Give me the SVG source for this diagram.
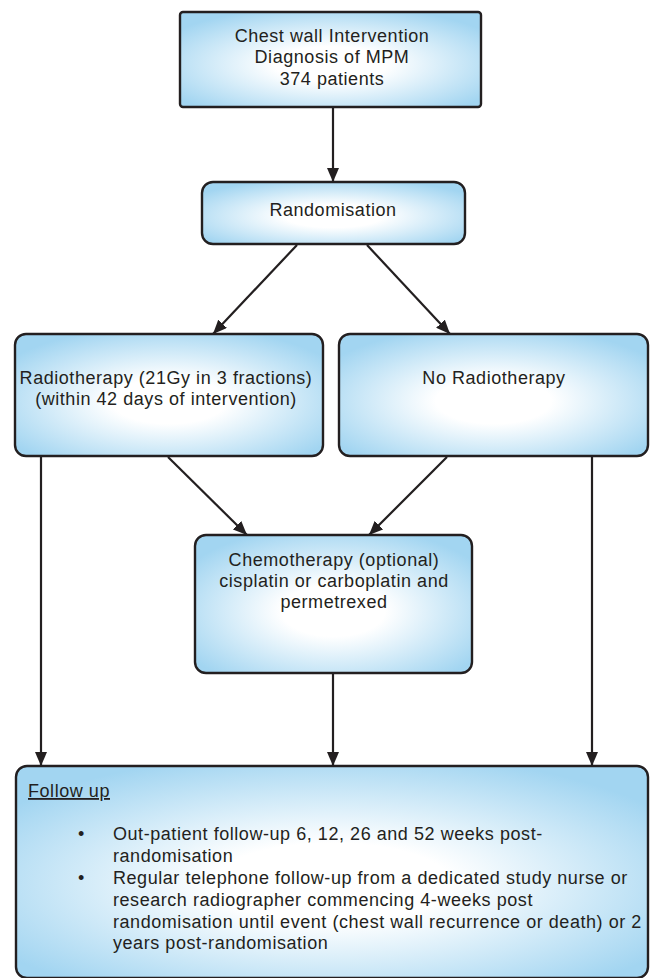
<svg xmlns="http://www.w3.org/2000/svg" width="652" height="978" viewBox="0 0 652 978">
<style>
.box{stroke:#231f20;stroke-width:2.4;fill:url(#g)}
.t{font-family:"Liberation Sans",Arial,sans-serif;font-size:18px;letter-spacing:0.55px;fill:#231f20}
.c{text-anchor:middle}
.ln{stroke:#231f20;stroke-width:2.2;fill:none;marker-end:url(#ah)}
</style>
<defs>
<radialGradient id="g" cx="50%" cy="55%" r="62%">
<stop offset="0" stop-color="#ffffff"/>
<stop offset="0.3" stop-color="#ffffff"/>
<stop offset="1" stop-color="#a2d5f1"/>
</radialGradient>
<marker id="ah" markerUnits="userSpaceOnUse" markerWidth="15" markerHeight="12" refX="14" refY="6" orient="auto">
<path d="M0,0 L14,6 L0,12 Z" fill="#231f20"/>
</marker>
</defs>
<g id="connectors">
<line class="ln" x1="333" y1="107" x2="333" y2="182"/>
<line class="ln" x1="297" y1="245" x2="213" y2="334"/>
<line class="ln" x1="367" y1="245" x2="450" y2="334"/>
<line class="ln" x1="168" y1="457" x2="247" y2="535"/>
<line class="ln" x1="447" y1="457" x2="369" y2="535"/>
<line class="ln" x1="41" y1="457" x2="41" y2="766"/>
<line class="ln" x1="333" y1="673" x2="333" y2="766"/>
<line class="ln" x1="592" y1="457" x2="592" y2="766"/>
</g>
<g id="n-intervention">
<rect class="box" x="180" y="12" width="301" height="95" rx="3"/>
<text class="t c" x="332" y="42">Chest wall Intervention</text>
<text class="t c" x="332" y="63">Diagnosis of MPM</text>
<text class="t c" x="332" y="85">374 patients</text>
</g>
<g id="n-randomisation">
<rect class="box" x="202" y="182" width="263" height="62" rx="11"/>
<text class="t c" x="333" y="216">Randomisation</text>
</g>
<g id="n-radiotherapy">
<rect class="box" x="15" y="334" width="308" height="122" rx="11"/>
<text class="t c" x="166" y="384">Radiotherapy (21Gy in 3 fractions)</text>
<text class="t c" x="166" y="405">(within 42 days of intervention)</text>
</g>
<g id="n-noradiotherapy">
<rect class="box" x="339" y="334" width="309" height="122" rx="11"/>
<text class="t c" x="494" y="384">No Radiotherapy</text>
</g>
<g id="n-chemotherapy">
<rect class="box" x="195" y="535" width="277" height="138" rx="11"/>
<text class="t c" x="334" y="566">Chemotherapy (optional)</text>
<text class="t c" x="334" y="587">cisplatin or carboplatin and</text>
<text class="t c" x="334" y="608">permetrexed</text>
</g>
<g id="n-followup">
<rect class="box" x="16" y="766" width="632" height="212" rx="11"/>
<text class="t" x="28" y="797" text-decoration="underline">Follow up</text>
<text class="t" x="78" y="840">•</text>
<text class="t" x="113" y="840">Out-patient follow-up 6, 12, 26 and 52 weeks post-</text>
<text class="t" x="113" y="862">randomisation</text>
<text class="t" x="78" y="884">•</text>
<text class="t" x="113" y="884">Regular telephone follow-up from a dedicated study nurse or</text>
<text class="t" x="113" y="906">research radiographer commencing 4-weeks post</text>
<text class="t" x="113" y="928">randomisation until event (chest wall recurrence or death) or 2</text>
<text class="t" x="113" y="949">years post-randomisation</text>
</g>
</svg>
